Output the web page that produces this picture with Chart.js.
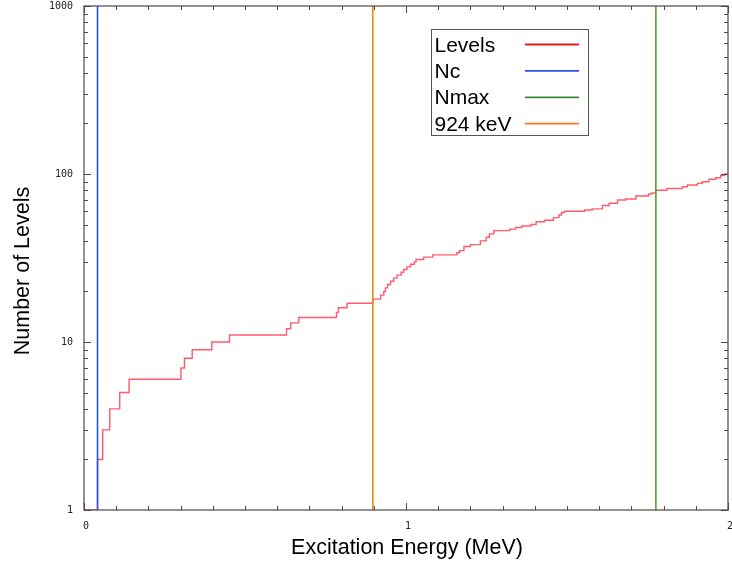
<!DOCTYPE html>
<html>
<head>
<meta charset="utf-8">
<script src="https://cdn.jsdelivr.net/npm/chart.js@4.4.1/dist/chart.umd.min.js"></script>
<style>
  html, body { margin: 0; padding: 0; background: #ffffff; }
  #wrap { width: 732px; height: 562px; position: relative; }
</style>
</head>
<body>
<div id="wrap"><canvas id="levels" width="732" height="562"></canvas></div>
<script>
// Cumulative number of levels: the count reaches levelCount[i] at stepEnergy[i] (MeV)
const stepEnergy = [
  0.000, 0.042, 0.058, 0.080, 0.111, 0.140, 0.301, 0.312, 0.336, 0.397,
  0.452, 0.629, 0.642, 0.667, 0.784, 0.790, 0.817, 0.897, 0.921, 0.931,
  0.936, 0.943, 0.952, 0.962, 0.972, 0.985, 0.993, 1.003, 1.014, 1.026,
  1.031, 1.055, 1.083, 1.158, 1.166, 1.180, 1.200, 1.231, 1.249, 1.259,
  1.273, 1.322, 1.340, 1.360, 1.388, 1.404, 1.430, 1.458, 1.475, 1.483,
  1.492, 1.555, 1.578, 1.610, 1.631, 1.657, 1.682, 1.714, 1.753, 1.764,
  1.776, 1.810, 1.858, 1.874, 1.905, 1.920, 1.941, 1.962, 1.977, 1.990,
  2.000
];
const levelCount = [
  1, 2, 3, 4, 5, 6, 7, 8, 9, 10,
  11, 12, 13, 14, 15, 16, 17, 18, 19, 20,
  21, 22, 23, 24, 25, 26, 27, 28, 29, 30,
  31, 32, 33, 34, 35, 37, 38, 40, 42, 44,
  46, 47, 48, 49, 50, 52, 53, 55, 57, 59,
  60, 61, 62, 65, 67, 70, 71, 74, 76, 77,
  80, 82, 84, 86, 88, 90, 93, 95, 98, 100,
  100
];

// Vertical reference lines (MeV)
const markerNames  = ['Nc', 'Nmax', '924 keV'];
const markerEnergy = [0.042, 1.776, 0.897];
const markerColors = ['#2456e6', '#4aa62a', '#ec8a00'];
const markerKeyColors = ['#2456e6', '#3c8c3c', '#ff7a22'];

// Axis ticks
const xTickValues = [0, 1, 2];
const xMinorStep = 0.1;
const yTickValues = [1, 10, 100, 1000];

const curveColor = 'rgba(255, 50, 70, 0.8)';
const curveKeyColor = '#e41c1c';

const levelPoints = stepEnergy.map((e, i) => ({ x: e, y: levelCount[i] }));
const markerSets = markerNames.map((name, i) => ({
  label: name,
  data: [{ x: markerEnergy[i], y: yTickValues[0] }, { x: markerEnergy[i], y: yTickValues[yTickValues.length - 1] }],
  borderColor: markerColors[i],
  borderWidth: 1.6,
  pointRadius: 0,
  order: 0
}));

const TEXT_FONT = '"Liberation Sans", Arial, Helvetica, sans-serif';

// Keep the plot area fixed: labels may overhang the frame edges
function noScalePadding(s) {
  s.paddingTop = 0; s.paddingBottom = 0; s.paddingLeft = 0; s.paddingRight = 0;
}

// Frame with inward ticks on all four sides, axis titles and the key box
const decorations = {
  id: 'decorations',
  afterDraw(chart) {
    const ctx = chart.ctx;
    const xs = chart.scales.x, ys = chart.scales.y;
    const a = chart.chartArea;
    ctx.save();
    ctx.strokeStyle = '#4a4a4a';
    ctx.lineWidth = 1.2;
    ctx.strokeRect(a.left, a.top, a.right - a.left, a.bottom - a.top);

    ctx.lineWidth = 1;
    ctx.beginPath();
    // x ticks, bottom and top
    const nMinor = Math.round((xs.max - xs.min) / xMinorStep);
    for (let k = 0; k <= nMinor; k++) {
      const v = xs.min + k * xMinorStep;
      const px = Math.round(xs.getPixelForValue(v)) + 0.5;
      const major = xTickValues.some(t => Math.abs(t - v) < 1e-9);
      const len = major ? 7 : 4;
      ctx.moveTo(px, a.bottom); ctx.lineTo(px, a.bottom - len);
      ctx.moveTo(px, a.top); ctx.lineTo(px, a.top + len);
    }
    // y ticks, left and right (log minors 2..9 in each decade)
    for (let d = 0; d < yTickValues.length; d++) {
      const base = yTickValues[d];
      for (let m = 1; m <= 9; m++) {
        const v = base * m;
        if (v > ys.max + 1e-9) break;
        const py = Math.round(ys.getPixelForValue(v)) + 0.5;
        const len = m === 1 ? 7 : 4;
        ctx.moveTo(a.left, py); ctx.lineTo(a.left + len, py);
        ctx.moveTo(a.right, py); ctx.lineTo(a.right - len, py);
      }
    }
    ctx.stroke();

    // axis titles
    ctx.fillStyle = '#000';
    ctx.font = '21.5px ' + TEXT_FONT;
    ctx.textAlign = 'center';
    ctx.textBaseline = 'alphabetic';
    ctx.fillText('Excitation Energy (MeV)', (a.left + a.right) / 2 + 1, 553.5);
    ctx.save();
    ctx.translate(28.5, 271);
    ctx.rotate(-Math.PI / 2);
    ctx.fillText('Number of Levels', 0, 0);
    ctx.restore();

    // key
    const keyNames = ['Levels'].concat(markerNames);
    const keyColors = [curveKeyColor].concat(markerKeyColors);
    ctx.strokeStyle = '#555';
    ctx.lineWidth = 1;
    ctx.strokeRect(431.5, 29.5, 157, 106);
    ctx.textAlign = 'left';
    ctx.font = '21px ' + TEXT_FONT;
    keyNames.forEach((name, i) => {
      const cy = 44 + i * 26.4;
      ctx.fillStyle = '#000';
      ctx.fillText(name, 434.5, cy + 7.5);
      ctx.strokeStyle = keyColors[i];
      ctx.lineWidth = 1.8;
      ctx.beginPath();
      ctx.moveTo(525, cy + 0.5);
      ctx.lineTo(579, cy + 0.5);
      ctx.stroke();
    });
    ctx.restore();
  }
};

new Chart(document.getElementById('levels'), {
  type: 'line',
  data: {
    datasets: [
      {
        label: 'Levels',
        data: levelPoints,
        stepped: 'before',
        borderColor: curveColor,
        borderWidth: 1.4,
        pointRadius: 0,
        order: 1
      }
    ].concat(markerSets)
  },
  options: {
    responsive: false,
    animation: false,
    devicePixelRatio: 1,
    layout: { padding: { left: 0, right: 4, top: 6, bottom: 0 } },
    plugins: { legend: { display: false }, tooltip: { enabled: false } },
    scales: {
      x: {
        type: 'linear',
        min: 0,
        max: 2,
        afterBuildTicks: s => { s.ticks = xTickValues.map(v => ({ value: v })); },
        afterFit: s => { s.height = 52; noScalePadding(s); },
        grid: { display: false, drawTicks: false },
        border: { display: false },
        ticks: {
          autoSkip: false,
          maxRotation: 0,
          padding: 10,
          labelOffset: 2,
          color: '#222',
          font: { family: '"DejaVu Sans Mono", monospace', size: 10 },
          callback: v => String(v)
        }
      },
      y: {
        type: 'logarithmic',
        min: 1,
        max: 1000,
        afterBuildTicks: s => { s.ticks = yTickValues.map(v => ({ value: v })); },
        afterFit: s => { s.width = 84; noScalePadding(s); },
        grid: { display: false, drawTicks: false },
        border: { display: false },
        ticks: {
          autoSkip: false,
          padding: 11,
          color: '#222',
          font: { family: '"DejaVu Sans Mono", monospace', size: 10 },
          callback: v => String(v)
        }
      }
    }
  },
  plugins: [decorations]
});
</script>
</body>
</html>
